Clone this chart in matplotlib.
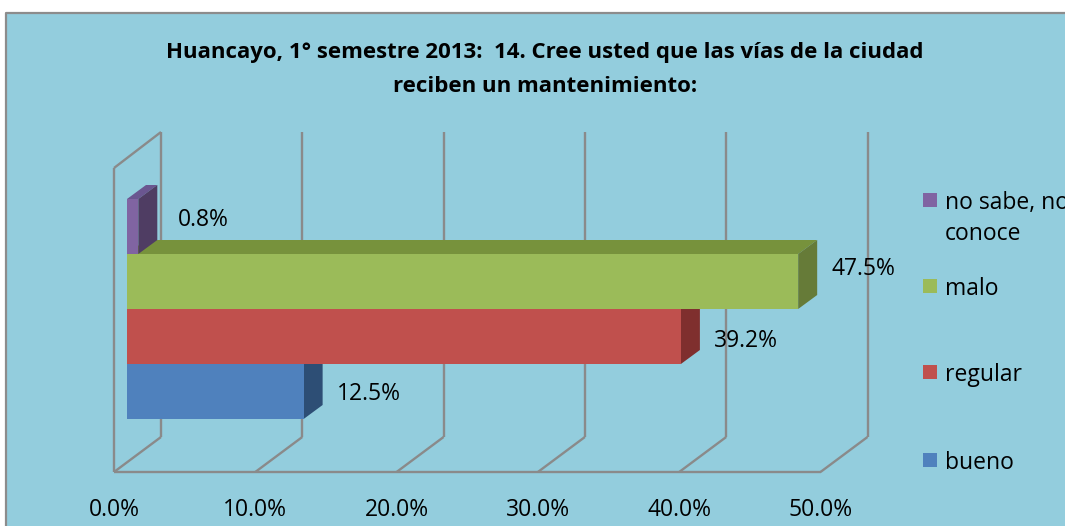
import numpy as np
import matplotlib
matplotlib.use('Agg')
import matplotlib.pyplot as plt
from matplotlib.patches import Polygon, Rectangle
from matplotlib.lines import Line2D

# data
categories = ['bueno', 'regular', 'malo', 'no sabe, no\nconoce']
values = [12.5, 39.2, 47.5, 0.8]
ticks = [0, 10, 20, 30, 40, 50]
tick_labels = ['0.0%', '10.0%', '20.0%', '30.0%', '40.0%', '50.0%']
title = 'Huancayo, 1° semestre 2013:  14. Cree usted que las vías de la ciudad\nreciben un mantenimiento:'

# colours (front, side, top)
front_cols = ['#4F81BD', '#C0504D', '#9BBB59', '#8064A2']
side_cols = ['#2D4E75', '#7F2F2E', '#667B38', '#4F3D63']
top_cols = ['#3B6699', '#953D3A', '#77923C', '#6A5690']
bg = '#93CDDD'
grid_col = '#8a8a8a'

W, H = 1065, 526
fig = plt.figure(figsize=(W / 100, H / 100), dpi=100, facecolor='white')
bx, by = 6 / W, 1 - 13 / H
fig.patches.append(Rectangle((bx, 0), 1.0, by, transform=fig.transFigure,
                             facecolor=bg, edgecolor='none', zorder=-5))
fig.lines.append(Line2D([bx, bx, 1.0], [0, by, by], transform=fig.transFigure,
                        color='#8c8c8c', lw=1.6, zorder=-4))

plt.rcParams['font.family'] = ['Open Sans', 'DejaVu Sans']

# pixel geometry of the 3d box
px_pct = 14.13          # pixels per percent
x0_px = 127             # bar front face 0%
bar_px = 55             # pixels per category
y0_px = 391.5           # centre of first bar
floor_px, back_floor_px, top_px = 472, 437, 132

ax = fig.add_axes([0, (H - floor_px) / H, 1, (floor_px - top_px) / H])
ax.set_facecolor('none')
ax.set_zorder(1)
ax.set_xlim(-x0_px / px_pct, (W - x0_px) / px_pct)
ax.set_ylim((y0_px - floor_px) / bar_px, (y0_px - top_px) / bar_px)
for s in ax.spines.values():
    s.set_visible(False)
ax.set_yticks([])

front_dx = -13 / px_pct
back_dx = 34 / px_pct
floor_y = ax.get_ylim()[0]
back_floor_y = (y0_px - back_floor_px) / bar_px
wall_top_y = ax.get_ylim()[1]
left_top_y = (y0_px - 168) / bar_px

# walls / gridlines
lkw = dict(color=grid_col, lw=1.7, zorder=1, clip_on=False, solid_capstyle='butt')
for t in ticks:
    ax.plot([t + back_dx, t + back_dx], [back_floor_y, wall_top_y], **lkw)
    ax.plot([t + back_dx, t + front_dx], [back_floor_y, floor_y], **lkw)
ax.plot([ticks[0] + front_dx, ticks[-1] + front_dx], [floor_y, floor_y], **lkw)
ax.plot([front_dx, front_dx], [floor_y, left_top_y], **lkw)
ax.plot([front_dx, back_dx], [left_top_y, wall_top_y], **lkw)

# 3d bars
ddx, ddy = 19 / px_pct, 14 / bar_px
for i, v in enumerate(values):
    z = 2 + i * 3
    lo, hi = i - 0.5, i + 0.5
    ax.add_patch(Polygon([(0, hi), (ddx, hi + ddy), (v + ddx, hi + ddy), (v, hi)],
                         closed=True, facecolor=top_cols[i], edgecolor='none', zorder=z))
    ax.add_patch(Polygon([(v, lo), (v + ddx, lo + ddy), (v + ddx, hi + ddy), (v, hi)],
                         closed=True, facecolor=side_cols[i], edgecolor='none', zorder=z + 1))
    ax.barh(i, v, height=1.0, color=front_cols[i], edgecolor='none', zorder=z + 2)

# data labels
label_dy = [0.0, -0.03, 0.28, 0.18]
for i, v in enumerate(values):
    ax.text(v + 65 / px_pct, i + label_dy[i], f'{v:.1f}%', ha='center',
            va='center_baseline', fontsize=16.5, color='black', zorder=20)

ax.set_xticks([t + front_dx for t in ticks], tick_labels)
ax.tick_params(axis='x', length=0, pad=19, labelsize=16.5)

# title, one text per line
for k, line in enumerate(title.split('\n')):
    fig.text(545 / W, 1 - (50 + 34 * k) / H, line, ha='center', va='center_baseline',
             fontsize=16, fontweight='bold')

# legend (top to bottom, reversed category order)
leg_y = [460, 372, 286, 200]
for i, lab in enumerate(categories):
    yy = 1 - leg_y[i] / H
    fig.patches.append(Rectangle((923 / W, yy - 7 / H), 14 / W, 14 / H,
                                 transform=fig.transFigure, facecolor=front_cols[i],
                                 edgecolor='none', zorder=3))
    for k, line in enumerate(lab.split('\n')):
        fig.text(945 / W, yy - 31 * k / H, line, ha='left', va='center_baseline',
                 fontsize=16.5)

fig.savefig('out.png', dpi=100, facecolor=fig.get_facecolor())
